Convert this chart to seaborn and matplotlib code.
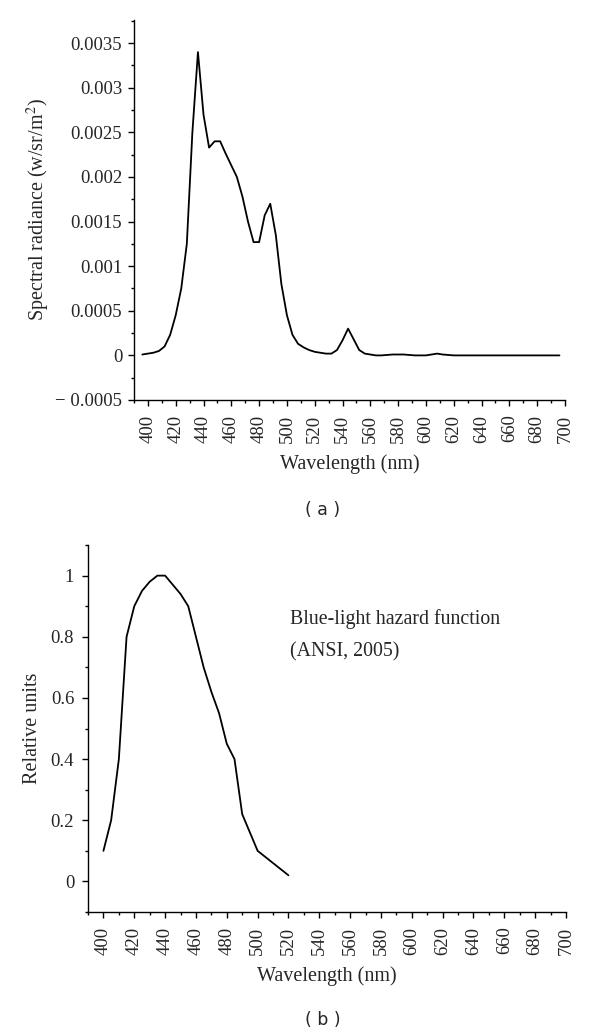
import numpy as np
import pandas as pd
import matplotlib
matplotlib.use("Agg")
import matplotlib.pyplot as plt
import seaborn as sns
from matplotlib.ticker import MultipleLocator

# ---- data: panel (a) spectral radiance ----
wl_a = list(range(396, 700, 4))
rad_a = [0.00001, 0.00002, 0.00003, 0.00005, 0.00010, 0.00023, 0.00045, 0.00075,
         0.00125, 0.00250, 0.00340, 0.00270, 0.00233, 0.00240, 0.00240, 0.00226,
         0.00213, 0.00200, 0.00178, 0.00150, 0.00127, 0.00127, 0.00157, 0.00170,
         0.00135, 0.00080, 0.00045, 0.00023, 0.00013, 0.00009, 0.00006, 0.00004,
         0.00003, 0.00002, 0.00002, 0.00006, 0.00017, 0.00030, 0.00018, 0.00006,
         0.00002, 0.00001, 0.00000, 0.00000, 0.000005, 0.00001, 0.00001, 0.00001,
         0.000005, 0.00000, 0.00000, 0.00000, 0.00001, 0.00002, 0.00001, 0.000005,
         0.00000, 0.00000, 0.00000, 0.00000, 0.00000, 0.00000, 0.00000, 0.00000,
         0.00000, 0.00000, 0.00000, 0.00000, 0.00000, 0.00000, 0.00000, 0.00000,
         0.00000, 0.00000, 0.00000, 0.00000]

# ---- data: panel (b) blue-light hazard function ----
wl_b = [400, 405, 410, 415, 420, 425, 430, 435, 440, 445, 450, 455, 460, 465,
        470, 475, 480, 485, 490, 500, 520]
blh_b = [0.10, 0.20, 0.40, 0.80, 0.90, 0.95, 0.98, 1.00, 1.00, 0.97, 0.94, 0.90,
         0.80, 0.70, 0.62, 0.55, 0.45, 0.40, 0.22, 0.10, 0.02]

xticks = list(range(400, 701, 20))
yticks_a = [-0.0005, 0, 0.0005, 0.001, 0.0015, 0.002, 0.0025, 0.003, 0.0035]
ylabels_a = ["\u2212 0.0005", "0", "0.0005", "0.001", "0.0015", "0.002",
             "0.0025", "0.003", "0.0035"]
yticks_b = [0, 0.2, 0.4, 0.6, 0.8, 1]
ylabels_b = ["0", "0.2", "0.4", "0.6", "0.8", "1"]

sns.set_style("ticks")
plt.rcParams["font.family"] = ["Liberation Serif", "DejaVu Serif"]
plt.rcParams["mathtext.fontset"] = "stix"

fig = plt.figure(figsize=(6, 10.36), dpi=100)
ax1 = fig.add_axes([0.2233, 0.6139, 0.7184, 0.3668])
ax2 = fig.add_axes([0.1467, 0.1197, 0.7966, 0.3542])

dfa = pd.DataFrame({"wl": wl_a, "v": rad_a})
dfb = pd.DataFrame({"wl": wl_b, "v": blh_b})
sns.lineplot(data=dfa, x="wl", y="v", ax=ax1, color="black", linewidth=1.3)
sns.lineplot(data=dfb, x="wl", y="v", ax=ax2, color="black", linewidth=1.3)

for ax in (ax1, ax2):
    ax.set_xlim(390, 700)
    ax.set_xticks(xticks)
    ax.set_xticklabels([str(t) for t in xticks], rotation=90, fontsize=13.5)
    ax.xaxis.set_minor_locator(MultipleLocator(10))
    for s in ("top", "right"):
        ax.spines[s].set_visible(False)
    for s in ("left", "bottom"):
        ax.spines[s].set_linewidth(1.0)
        ax.spines[s].set_color("black")
    ax.tick_params(which="major", direction="out", length=4.5, width=1.0,
                   color="black")
    ax.tick_params(which="minor", direction="out", length=2.5, width=1.0,
                   color="black")
    ax.tick_params(axis="x", which="major", pad=6)
    ax.set_xlabel("Wavelength (nm)", fontsize=14.5, labelpad=8)
    ax.grid(False)

ax1.tick_params(axis="y", which="major", pad=4)
ax2.tick_params(axis="y", which="major", pad=5.5)

ax1.set_ylim(-0.0005, 0.00376)
ax1.set_yticks(yticks_a)
ax1.set_yticklabels(ylabels_a, fontsize=13.5)
ax1.yaxis.set_minor_locator(MultipleLocator(0.00025))
ax1.set_ylabel("Spectral radiance (w/sr/m$^2$)", fontsize=14.5, labelpad=2)

ax2.set_ylim(-0.1, 1.1)
ax2.set_yticks(yticks_b)
ax2.set_yticklabels(ylabels_b, fontsize=13.5)
ax2.yaxis.set_minor_locator(MultipleLocator(0.1))
ax2.set_ylabel("Relative units", fontsize=14.5, labelpad=6)

ax2.text(521, 0.843, "Blue-light hazard function", fontsize=14.3,
         ha="left", va="baseline")
ax2.text(521, 0.735, "(ANSI, 2005)", fontsize=14.3, ha="left", va="baseline")

fig.text(323 / 600, 1 - 510 / 1036, "( a )", fontsize=12.5, ha="center",
         va="center", family="DejaVu Sans")
fig.text(323 / 600, 1 - 1020 / 1036, "( b )", fontsize=12.5, ha="center",
         va="center", family="DejaVu Sans")

fig.savefig("out.png", dpi=100)
